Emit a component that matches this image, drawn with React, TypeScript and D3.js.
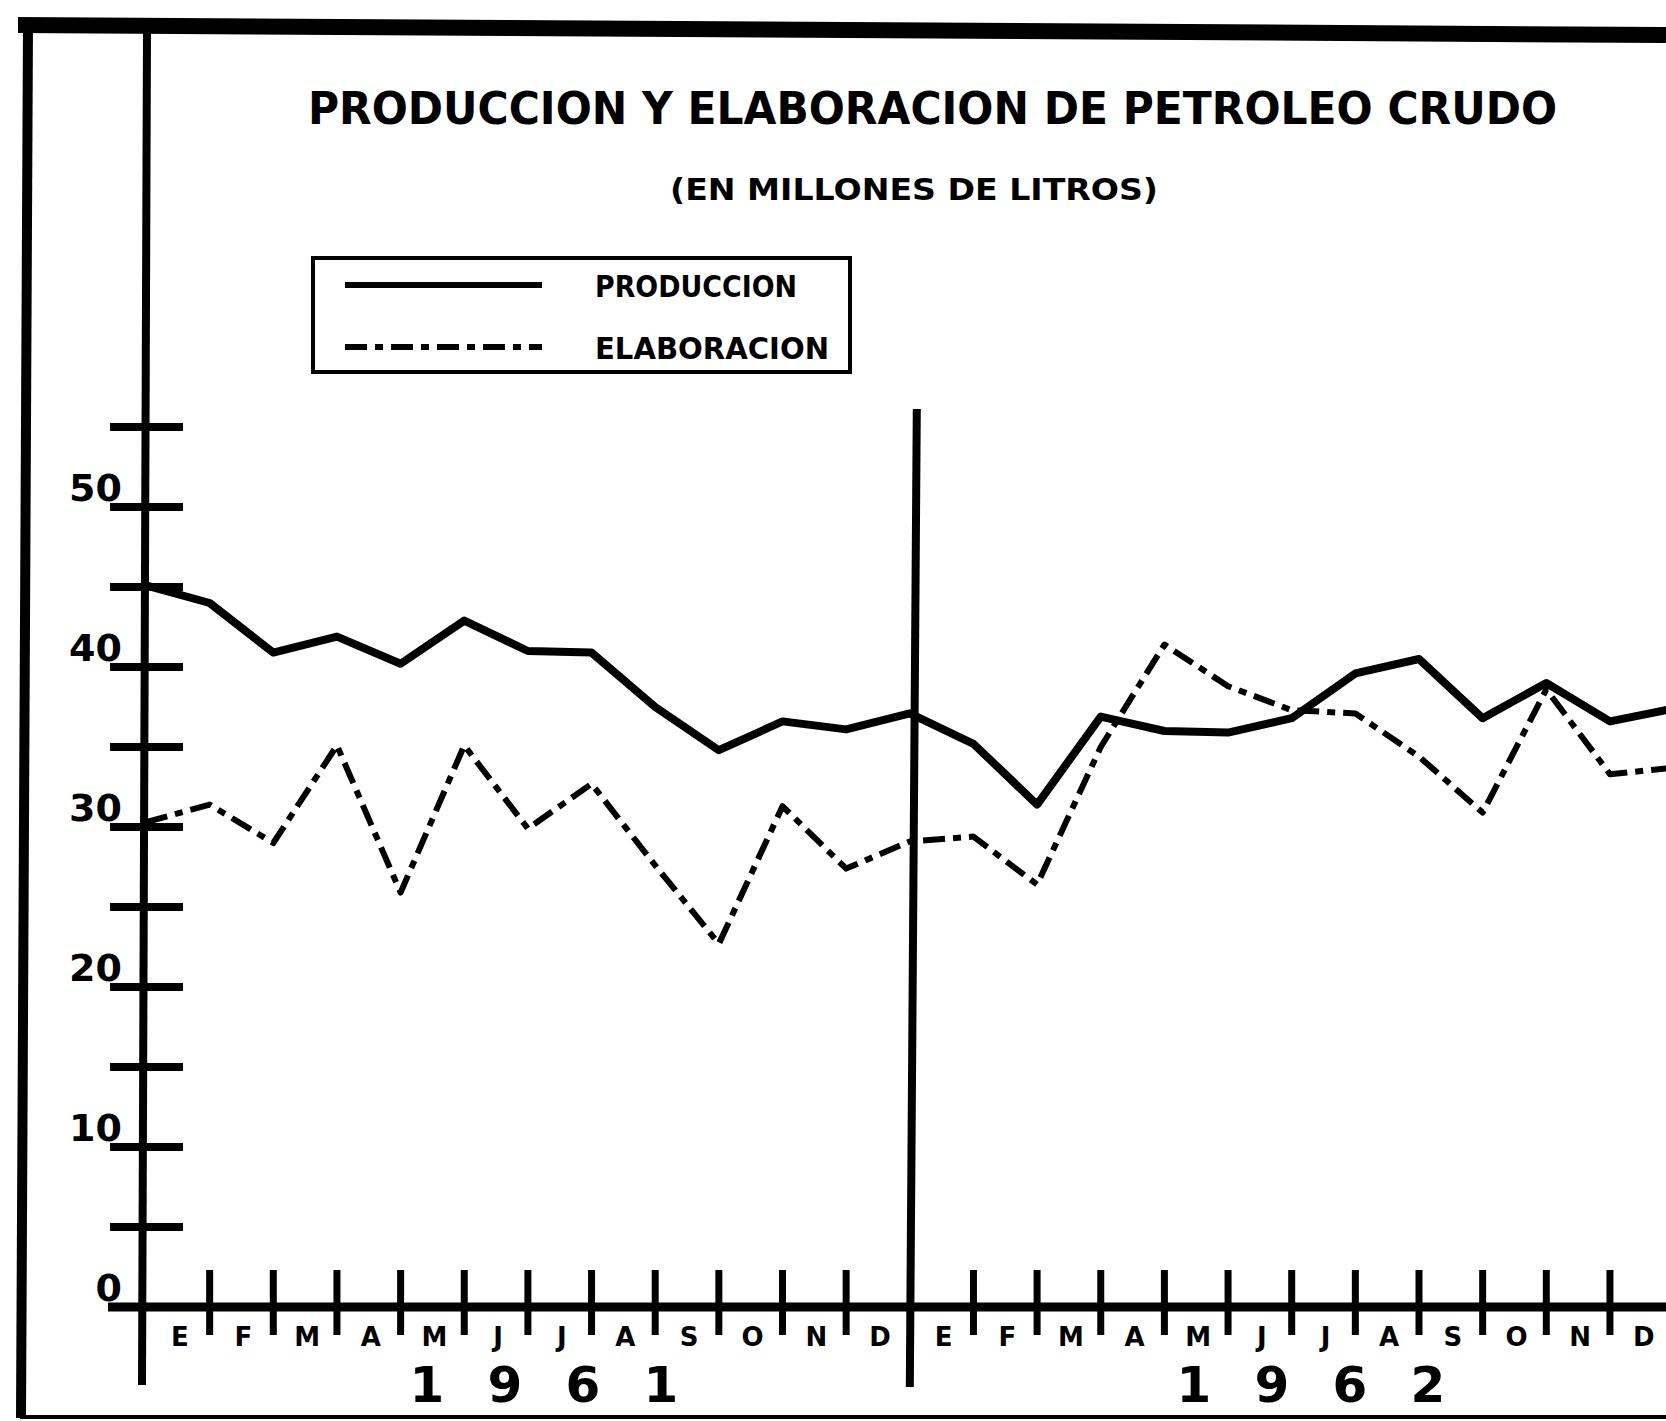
import React from "react";
import * as d3 from "d3";

const months = ["E", "F", "M", "A", "M", "J", "J", "A", "S", "O", "N", "D"];
const years = ["1961", "1962"];
const yTickValues = [5, 10, 15, 20, 25, 30, 35, 40, 45, 50, 55];
const yLabelValues = [0, 10, 20, 30, 40, 50];

// values at month boundaries (index 0 = y axis, 12 = year divider)
const produccion = [
  45.1, 44.0, 40.9, 41.9, 40.2, 42.9, 41.0, 40.9, 37.5, 34.8, 36.6, 36.1, 37.1,
  35.2, 31.4, 36.9, 36.0, 35.9, 36.8, 39.6, 40.5, 36.8, 39.0, 36.6, 37.4,
];
const elaboracion = [
  30.3, 31.4, 29.0, 35.1, 25.9, 35.1, 29.9, 32.7, 27.6, 22.7, 31.3, 27.4, 29.1,
  29.4, 26.4, 35.0, 41.4, 38.8, 37.3, 37.1, 34.4, 30.9, 38.6, 33.3, 33.7,
];

const W = 1666;
const H = 1421;
const FONT = "'DejaVu Sans', 'Liberation Sans', sans-serif";
const DASH = "22 8 8 8";

export default function App() {
  const x = d3.scaleLinear().domain([0, 24]).range([146, 1673.6]);
  const y = d3.scaleLinear().domain([0, 55]).range([1307, 427]);

  const line = d3
    .line<number>()
    .x((_, i) => x(i))
    .y((d) => y(d));

  const allMonths = [...months, ...months];

  return (
    <svg
      width={W}
      height={H}
      viewBox={`0 0 ${W} ${H}`}
      style={{ position: "absolute", left: 0, top: 0, display: "block", background: "#fff" }}
    >
      <rect x={0} y={0} width={W} height={H} fill="#fff" />
      {/* frame */}
      <line x1={18} y1={25} x2={W} y2={35} stroke="#000" strokeWidth={16} />
      <line x1={28} y1={25} x2={21} y2={1418} stroke="#000" strokeWidth={10} />
      <line x1={20} y1={1417} x2={W} y2={1417} stroke="#000" strokeWidth={4} />

      {/* title */}
      <text
        x={308}
        y={124}
        fontFamily={FONT}
        fontWeight="bold"
        fontSize={44}
        textLength={1249}
        lengthAdjust="spacingAndGlyphs"
      >
        PRODUCCION Y ELABORACION  DE PETROLEO  CRUDO
      </text>
      <text
        x={670}
        y={200}
        fontFamily={FONT}
        fontWeight="bold"
        fontSize={30}
        textLength={488}
        lengthAdjust="spacingAndGlyphs"
      >
        (EN MILLONES DE LITROS)
      </text>

      {/* legend */}
      <rect x={313} y={258} width={537} height={114} fill="none" stroke="#000" strokeWidth={4} />
      <line x1={345} y1={285} x2={542} y2={285} stroke="#000" strokeWidth={6} />
      <line x1={345} y1={347} x2={542} y2={347} stroke="#000" strokeWidth={6} strokeDasharray={DASH} />
      <text x={595} y={297} fontFamily={FONT} fontWeight="bold" fontSize={30} textLength={202} lengthAdjust="spacingAndGlyphs">
        PRODUCCION
      </text>
      <text x={595} y={359} fontFamily={FONT} fontWeight="bold" fontSize={30} textLength={234} lengthAdjust="spacingAndGlyphs">
        ELABORACION
      </text>

      {/* y axis */}
      <line x1={147} y1={30} x2={142} y2={1385} stroke="#000" strokeWidth={8} />
      {yTickValues.map((v) => (
        <line key={"yt" + v} x1={110} x2={183} y1={y(v)} y2={y(v)} stroke="#000" strokeWidth={8} />
      ))}
      {yLabelValues.map((v) => (
        <text
          key={"yl" + v}
          x={122}
          y={y(v) - 6}
          textAnchor="end"
          fontFamily={FONT}
          fontWeight="bold"
          fontSize={38}
        >
          {v}
        </text>
      ))}

      {/* x axis */}
      <line x1={108} y1={y(0)} x2={W} y2={y(0)} stroke="#000" strokeWidth={9} />
      {d3.range(1, 25).map((k) =>
        k === 12 ? null : (
          <line key={"xt" + k} x1={x(k)} x2={x(k)} y1={1270} y2={1335} stroke="#000" strokeWidth={7} />
        )
      )}
      {/* year divider */}
      <line x1={x(12) + 7} y1={409} x2={x(12)} y2={1387} stroke="#000" strokeWidth={8} />

      {allMonths.map((m, i) => (
        <text
          key={"m" + i}
          x={x(i + 0.5) + 2}
          y={1346}
          textAnchor="middle"
          fontFamily={FONT}
          fontWeight="bold"
          fontSize={26}
        >
          {m}
        </text>
      ))}

      {years.map((yr, j) => {
        const c = x(j === 0 ? 6.25 : 18.3);
        return yr.split("").map((ch, i) => (
          <text
            key={"yr" + j + i}
            x={c + (i - 1.5) * 78}
            y={1402}
            textAnchor="middle"
            fontFamily={FONT}
            fontWeight="bold"
            fontSize={50}
          >
            {ch}
          </text>
        ));
      })}

      {/* series */}
      <path
        d={line(produccion) || ""}
        fill="none"
        stroke="#000"
        strokeWidth={8}
        strokeLinejoin="round"
      />
      <path
        d={line(elaboracion) || ""}
        fill="none"
        stroke="#000"
        strokeWidth={6}
        strokeLinejoin="round"
        strokeDasharray={DASH}
      />
    </svg>
  );
}
